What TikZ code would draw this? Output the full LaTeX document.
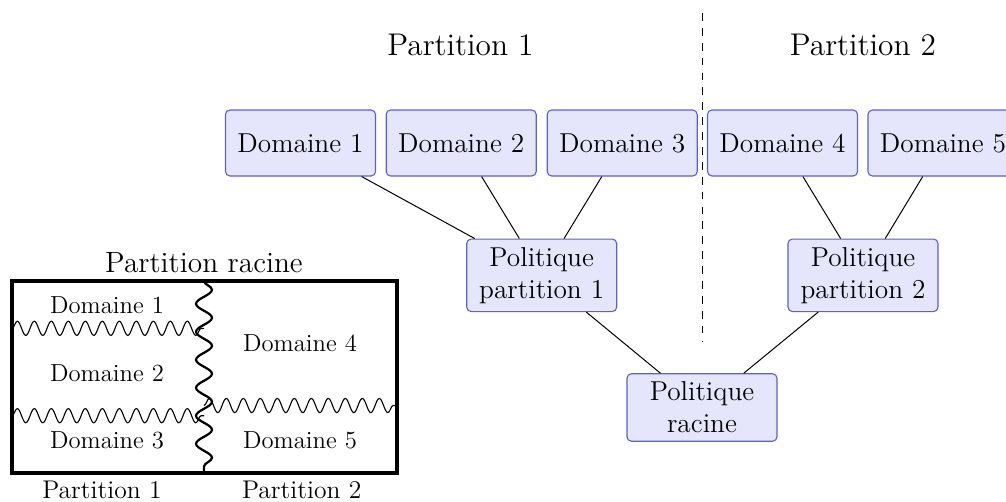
\documentclass[tikz,border=0pt]{standalone}
\usetikzlibrary{decorations.pathmorphing}
\definecolor{boxfill}{RGB}{229,229,252}
\definecolor{boxedge}{RGB}{95,95,208}
\begin{document}
\begin{tikzpicture}[x=0.45pt,y=-0.45pt,
  box/.style={draw=boxedge, line width=0.5pt, fill=boxfill, rounded corners=2pt,
    minimum width=67.5pt, minimum height=29.7pt, inner xsep=2pt,
    inner ysep=3.65pt, align=center, font=\fontsize{12.3}{14.4}\selectfont},
  title/.style={anchor=base, inner sep=0pt, font=\fontsize{14.1}{17}\selectfont},
  label/.style={anchor=base, inner sep=0pt, font=\fontsize{11.1}{13}\selectfont},
  caption/.style={anchor=base, inner sep=0pt, font=\fontsize{11.5}{13}\selectfont},
  heading/.style={anchor=base, inner sep=0pt, font=\fontsize{13.2}{15}\selectfont},
  link/.style={line width=0.45pt},
  wave/.style={decorate, decoration={snake, amplitude=3.2pt, segment length=7.65pt}, line width=0.5pt},
  split/.style={decorate, decoration={snake, amplitude=3.6pt, segment length=12.6pt}, line width=1pt}
]
\useasboundingbox (0,0) rectangle (1006,501);

% policy tree
\node[title] (t1) at (460.5,55) {Partition 1};
\node[title] (t2) at (863,55) {Partition 2};

\node[box] (d1) at (300.5,143) {Domaine 1};
\node[box] (d2) at (461.2,143) {Domaine 2};
\node[box] (d3) at (622.2,143) {Domaine 3};
\node[box] (d4) at (782.5,143) {Domaine 4};
\node[box] (d5) at (943,143) {Domaine 5};

\node[box] (p1) at (541.7,275.3) {Politique\\partition 1};
\node[box] (p2) at (863,275.3) {Politique\\partition 2};
\node[box] (root) at (702,407.5) {Politique\\racine};

\draw[link] (d1) -- (p1);
\draw[link] (d2) -- (p1);
\draw[link] (d3) -- (p1);
\draw[link] (d4) -- (p2);
\draw[link] (d5) -- (p2);
\draw[link] (p1) -- (root);
\draw[link] (p2) -- (root);

\coordinate (sepTop) at (702,13);
\coordinate (sepBot) at (702,342);
\draw[dash pattern=on 3.5pt off 3.2pt, line width=0.45pt] (sepTop) -- (sepBot);

% partitioned domain map
\draw[wave] (12,328.3) -- (204,328.3);
\draw[wave] (12,415.7) -- (204,415.7);
\draw[wave] (204,405.5) -- (397,405.5);
\draw[split] (204,281) -- (204,473);
\draw[line width=1.5pt] (12,281) rectangle (397,473);

\node[heading] (lt) at (204,272.7) {Partition racine};
\node[label] (l1) at (107,313.3) {Domaine 1};
\node[label] (l2) at (107,381) {Domaine 2};
\node[label] (l3) at (107,448.3) {Domaine 3};
\node[label] (l4) at (300,351.7) {Domaine 4};
\node[label] (l5) at (300,448.3) {Domaine 5};
\node[caption] (lp1) at (102,498.3) {Partition 1};
\node[caption] (lp2) at (301.7,498.3) {Partition 2};
\end{tikzpicture}
\end{document}
